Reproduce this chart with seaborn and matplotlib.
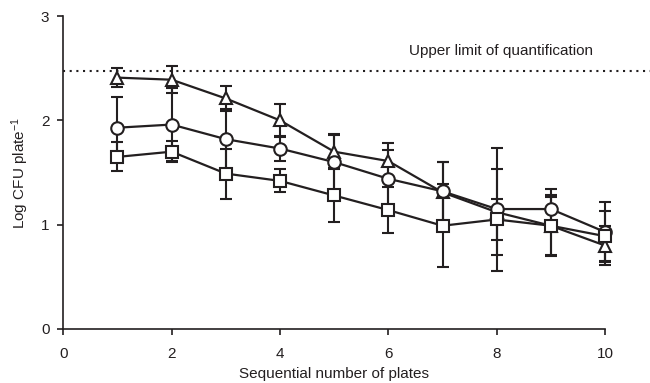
import matplotlib
matplotlib.use("Agg")
import matplotlib.pyplot as plt
import seaborn as sns
import pandas as pd
import numpy as np

plates = [1, 2, 3, 4, 5, 6, 7, 8, 9, 10]
triangle_vals = [2.41, 2.39, 2.21, 2.00, 1.70, 1.61, 1.31, 1.12, 0.99, 0.80]
triangle_err = [0.09, 0.13, 0.12, 0.16, 0.16, 0.17, 0.29, 0.41, 0.28, 0.19]
circle_vals = [1.93, 1.96, 1.82, 1.73, 1.60, 1.44, 1.32, 1.15, 1.15, 0.93]
circle_err = [0.29, 0.35, 0.29, 0.12, 0.27, 0.28, 0.28, 0.59, 0.19, 0.29]
square_vals = [1.65, 1.70, 1.49, 1.42, 1.28, 1.14, 0.99, 1.05, 0.99, 0.89]
square_err = [0.14, 0.10, 0.24, 0.11, 0.25, 0.22, 0.40, 0.20, 0.29, 0.24]
upper_limit = 2.47
series_names = ["triangle", "circle", "square"]

sns.set_style("ticks")
plt.rcParams['font.family'] = ['Liberation Sans', 'DejaVu Sans']
plt.rcParams['mathtext.default'] = 'regular'

rows = []
for name, vals, errs in zip(series_names, [triangle_vals, circle_vals, square_vals],
                            [triangle_err, circle_err, square_err]):
    for p, v, e in zip(plates, vals, errs):
        rows.append({"plate": p, "value": v, "err": e, "series": name})
df = pd.DataFrame(rows)

fig = plt.figure(figsize=(6.5, 3.83), dpi=100)
ax = fig.add_axes([0.0974, 0.141, 0.8334, 0.817])

c = "#231f20"
for name in series_names:
    sub = df[df.series == name]
    eb = ax.errorbar(sub.plate, sub.value, yerr=sub.err, fmt="none", ecolor=c,
                     elinewidth=1.5, capsize=4.5, capthick=1.5, zorder=2)
    for art in eb.lines[1] + eb.lines[2]:
        art.set_clip_on(False)

sns.lineplot(data=df, x="plate", y="value", hue="series", style="series",
             markers={"triangle": "^", "circle": "o", "square": "s"},
             dashes=False, palette={n: c for n in series_names},
             markersize=9, markeredgewidth=1.5, markerfacecolor="white",
             markeredgecolor=c, linewidth=1.6, legend=False, ax=ax, zorder=3)
for ln in ax.lines:
    ln.set_clip_on(False)

ax.plot([0, 10.85], [upper_limit, upper_limit], ls=(0, (1, 2.2)), color=c,
        lw=1.5, clip_on=False, zorder=1)
ax.text(6.38, 2.67, "Upper limit of quantification", fontsize=11, color=c,
        va="center", ha="left")

ax.set_xlim(0, 10)
ax.set_ylim(0, 3)
ax.set_xticks([0, 2, 4, 6, 8, 10])
ax.set_yticks([0, 1, 2, 3])
ax.set_xlabel("Sequential number of plates", fontsize=11, color=c, labelpad=4)
ax.set_ylabel("Log CFU plate$^{-1}$", fontsize=11, color=c, labelpad=7)
ax.tick_params(labelsize=11, colors=c, width=1.2, length=4)
ax.tick_params(axis="x", pad=9)
ax.tick_params(axis="y", pad=6)
for s in ["left", "bottom"]:
    ax.spines[s].set_linewidth(1.2)
    ax.spines[s].set_color(c)
sns.despine(ax=ax)

fig.savefig("out.png", dpi=100)
